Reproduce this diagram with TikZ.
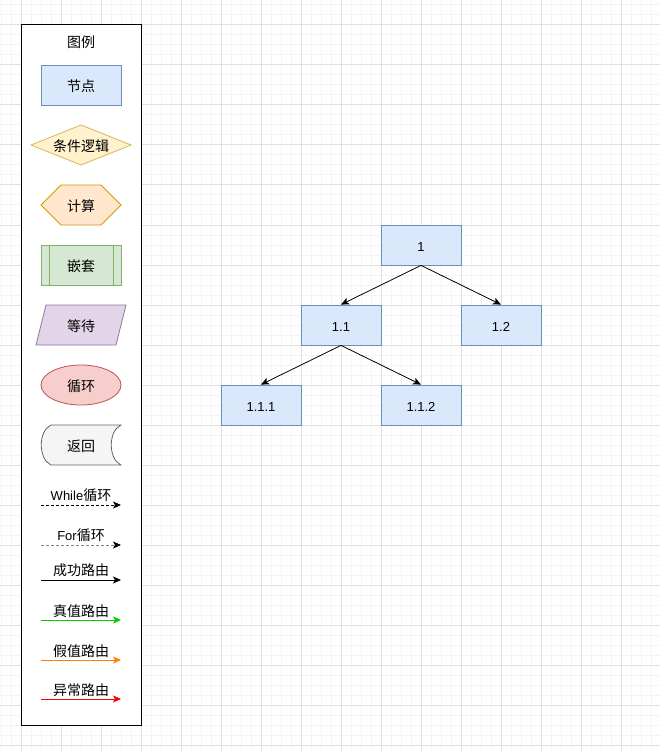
\documentclass[tikz,border=0pt]{standalone}
\usepackage{fontspec}
\setmainfont{Liberation Sans}
\newfontfamily\cjk{Noto Sans CJK SC}
\usetikzlibrary{arrows.meta}

% fill / stroke pairs
\definecolor{blueF}{HTML}{DAE8FC}\definecolor{blueS}{HTML}{6C8EBF}
\definecolor{yelF}{HTML}{FFF2CC}\definecolor{yelS}{HTML}{D6B656}
\definecolor{orgF}{HTML}{FFE6CC}\definecolor{orgS}{HTML}{D79B00}
\definecolor{grnF}{HTML}{D5E8D4}\definecolor{grnS}{HTML}{82B366}
\definecolor{purF}{HTML}{E1D5E7}\definecolor{purS}{HTML}{9673A6}
\definecolor{redF}{HTML}{F8CECC}\definecolor{redS}{HTML}{B85450}
\definecolor{gryF}{HTML}{F5F5F5}\definecolor{gryS}{HTML}{666666}
% route colours
\definecolor{trueC}{HTML}{00CC00}
\definecolor{falseC}{HTML}{FF8000}
\definecolor{errC}{HTML}{FF0000}
\definecolor{forC}{HTML}{808080}
% grid
\definecolor{gridMinor}{HTML}{F4F4F4}
\definecolor{gridMajor}{HTML}{E0E0E0}

\newcommand{\cjkfont}{\cjk\fontsize{14}{16}\selectfont}
\newcommand{\latfont}{\fontspec{Liberation Sans}\fontsize{13}{15}\selectfont}

\tikzset{
  lbl/.style={inner sep=0pt, font=\cjkfont},
  treebox/.style={draw=blueS, fill=blueF, line width=0.8pt,
    minimum width=80pt, minimum height=40pt, inner sep=0pt,
    text height=12pt, text depth=0pt,
    font=\fontsize{13}{15}\selectfont},
  shapeline/.style={line width=0.8pt},
  tip/.style={-{Stealth[length=8pt,width=7pt,inset=2pt]}},
  edge/.style={tip, line width=0.8pt, black},
  route/.style={-{Stealth[length=8pt,width=7pt,inset=2pt]}, line width=0.8pt},
}

\begin{document}
\begin{tikzpicture}[x=1pt,y=-1pt]
\useasboundingbox (0,0) rectangle (660,751);
\fill[white] (0,0) rectangle (660,751);

% background grid
\foreach \gx in {1,11,...,651} \draw[gridMinor, line width=1pt] (\gx,0) -- (\gx,751);
\foreach \gy in {5,15,...,745} \draw[gridMinor, line width=1pt] (0,\gy) -- (660,\gy);
\foreach \gx in {21,61,...,661} \draw[gridMajor, line width=1pt] (\gx,0) -- (\gx,751);
\foreach \gy in {25,65,...,745} \draw[gridMajor, line width=1pt] (0,\gy) -- (660,\gy);

% legend frame
\draw[black, fill=white, line width=1pt] (21,25) rectangle (141,725);
\node[lbl] (title) at (81,42.5) {图例};

% node
\draw[shapeline, draw=blueS, fill=blueF] (41,65) rectangle (121,105);
\node[lbl] (legnode) at (81,86.5) {节点};
% condition
\draw[shapeline, draw=yelS, fill=yelF] (31,145) -- (81,125) -- (131,145) -- (81,165) -- cycle;
\node[lbl] (legcond) at (81,146.5) {条件逻辑};
% compute
\draw[shapeline, draw=orgS, fill=orgF] (41,205) -- (61,185) -- (101,185) -- (121,205) -- (101,225) -- (61,225) -- cycle;
\node[lbl] (legcalc) at (81,206.5) {计算};
% nested
\draw[shapeline, draw=grnS, fill=grnF] (41,245) rectangle (121,285);
\draw[shapeline, draw=grnS] (49,245) -- (49,285) (113,245) -- (113,285);
\node[lbl] (legnest) at (81,266.5) {嵌套};
% wait
\draw[shapeline, draw=purS, fill=purF] (36,345) -- (46,305) -- (126,305) -- (116,345) -- cycle;
\node[lbl] (legwait) at (81,326.5) {等待};
% loop
\draw[shapeline, draw=redS, fill=redF] (81,385) ellipse [x radius=40, y radius=20];
\node[lbl] (legloop) at (81,386.5) {循环};
% return
\draw[shapeline, draw=gryS, fill=gryF] (51,425) -- (121,425)
  .. controls (108,431) and (108,459) .. (121,465) -- (51,465)
  .. controls (38,459) and (38,431) .. (51,425) -- cycle;
\node[lbl] (legret) at (81,446.5) {返回};

% route samples
\coordinate (wa) at (41,505); \coordinate (wb) at (121,505);
\draw[route, black, dash pattern=on 3pt off 2pt] (wa) -- (wb);
\node[lbl] (lwhile) at (81,495.5) {\latfont While{\cjkfont 循环}};

\coordinate (fa) at (41,545); \coordinate (fb) at (121,545);
\draw[forC, line width=0.8pt, dash pattern=on 3pt off 2pt,
      -{Stealth[length=8pt,width=7pt,inset=2pt,color=black]}] (fa) -- (fb);
\node[lbl] (lfor) at (81,535.5) {\latfont For{\cjkfont 循环}};

\coordinate (sa) at (41,580); \coordinate (sb) at (121,580);
\draw[route, black] (sa) -- (sb);
\node[lbl] (lsucc) at (81,570.5) {成功路由};

\coordinate (ta) at (41,620); \coordinate (tb) at (121,620);
\draw[route, trueC] (ta) -- (tb);
\node[lbl] (ltrue) at (81,611) {真值路由};

\coordinate (xa) at (41,660); \coordinate (xb) at (121,660);
\draw[route, falseC] (xa) -- (xb);
\node[lbl] (lfalse) at (81,651) {假值路由};

\coordinate (ea) at (41,699); \coordinate (eb) at (121,699);
\draw[route, errC] (ea) -- (eb);
\node[lbl] (lerr) at (81,690) {异常路由};

% tree
\node[treebox] (n1)   at (421,245) {1};
\node[treebox] (n11)  at (341,325) {1.1};
\node[treebox] (n12)  at (501,325) {1.2};
\node[treebox] (n111) at (261,405) {1.1.1};
\node[treebox] (n112) at (421,405) {1.1.2};

\draw[edge] (n1.south) -- (n11.north);
\draw[edge] (n1.south) -- (n12.north);
\draw[edge] (n11.south) -- (n111.north);
\draw[edge] (n11.south) -- (n112.north);
\end{tikzpicture}
\end{document}
